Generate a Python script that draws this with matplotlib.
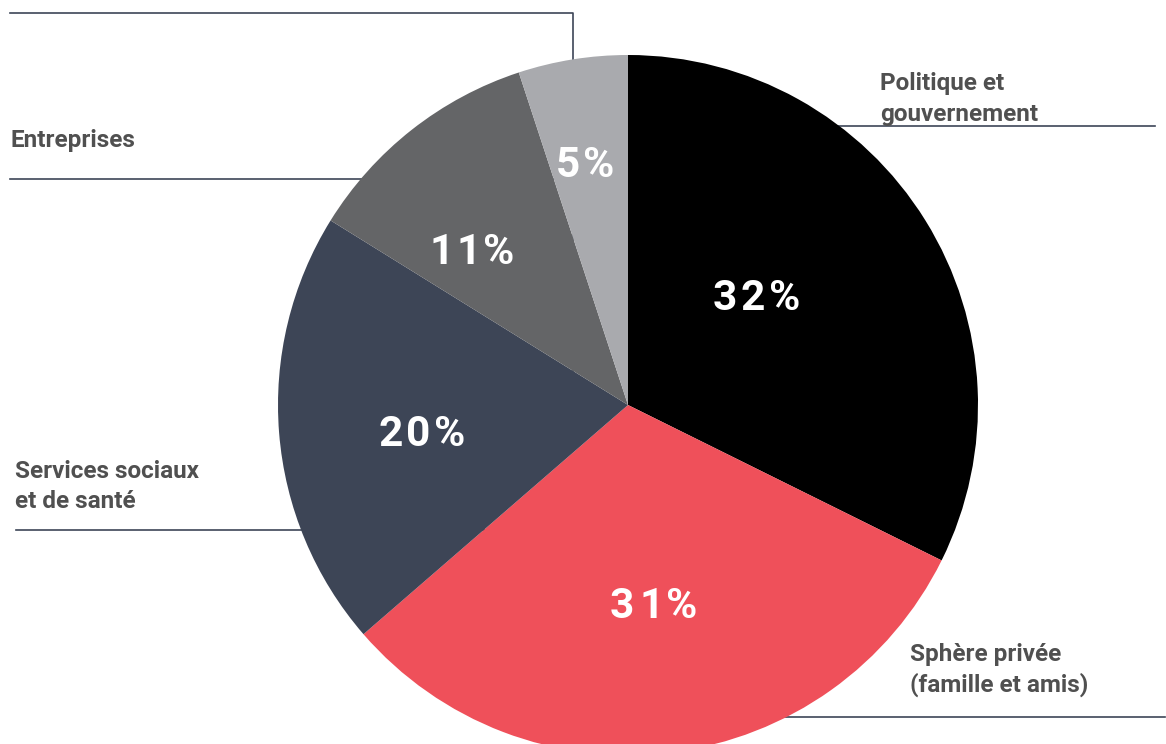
import matplotlib
matplotlib.use("Agg")
import matplotlib.pyplot as plt
from matplotlib.font_manager import FontProperties, findfont
from matplotlib.ft2font import FT2Font

# Data
categories = ["Politique et\ngouvernement", "Sphère privée\n(famille et amis)",
              "Services sociaux\net de santé", "Entreprises", ""]
values = [32, 31, 20, 11, 5]
colors = ["#000000", "#EF505A", "#3D4556", "#646567", "#A9AAAE"]

W, H = 1166, 744
fig = plt.figure(figsize=(W / 100, H / 100), dpi=100)
ax = fig.add_axes([0, 0, 1, 1])

cx, cy, R = 628, 405, 350
wedges, _ = ax.pie(values, colors=colors, startangle=270, counterclock=True,
                   center=(cx, cy), radius=R, wedgeprops=dict(linewidth=0),
                   normalize=True)
for w in wedges:
    w.set_zorder(3)

ax.set_xlim(0, W)
ax.set_ylim(H, 0)
ax.set_aspect("equal")
ax.axis("off")

line_color = "#3D4657"
lw = 1.2
# leader lines (drawn behind pie)
ax.plot([1155, cx], [126, 126], color=line_color, lw=lw, zorder=1)
ax.plot([1165, cx], [716.5, 716.5], color=line_color, lw=lw, zorder=1)
ax.plot([16, cx], [529.5, 529.5], color=line_color, lw=lw, zorder=1)
ax.plot([10, cx], [179, 179], color=line_color, lw=lw, zorder=1)
ax.plot([10, 573, 573], [12.5, 12.5, cy], color=line_color, lw=lw, zorder=1)

txt_color = "#505050"
font = dict(family="Roboto", weight="bold", size=17.5, color=txt_color)
label_pos = [(880, 90, 121), (910, 661.5, 692), (15, 477.5, 508.5), (10, 147.5, None)]
for (x, y1, y2), cat in zip(label_pos, categories[:4]):
    lines = cat.split("\n")
    ax.text(x, y1, lines[0], ha="left", va="baseline", zorder=5, **font)
    if y2 is not None and len(lines) > 1:
        ax.text(x, y2, lines[1], ha="left", va="baseline", zorder=5, **font)

# percentage labels with letter spacing
pct_size = 30.5
fp = FontProperties(family="Roboto", weight="bold")
ftf = FT2Font(findfont(fp))
ftf.set_size(pct_size, 100)


def spaced_text(xc, y, s, spacing):
    glyphs = []
    for c in s:
        g = ftf.load_char(ord(c))
        glyphs.append((c, g.linearHoriAdvance / 65536.0, g.horiBearingX / 64.0))
    total = sum(a for _, a, _ in glyphs) + spacing * (len(s) - 1)
    pen = xc - total / 2
    for c, adv, bx in glyphs:
        ax.text(pen + bx, y, c, ha="left", va="baseline", color="white",
                fontproperties=fp, size=pct_size, zorder=6)
        pen += adv + spacing


pct_pos = [(755, 310), (651.5, 617.5), (420, 446), (469, 264), (583, 177)]
for (x, y), v in zip(pct_pos, values):
    spaced_text(x, y, f"{v}%", 3.5)

fig.savefig("out.png", dpi=100)
